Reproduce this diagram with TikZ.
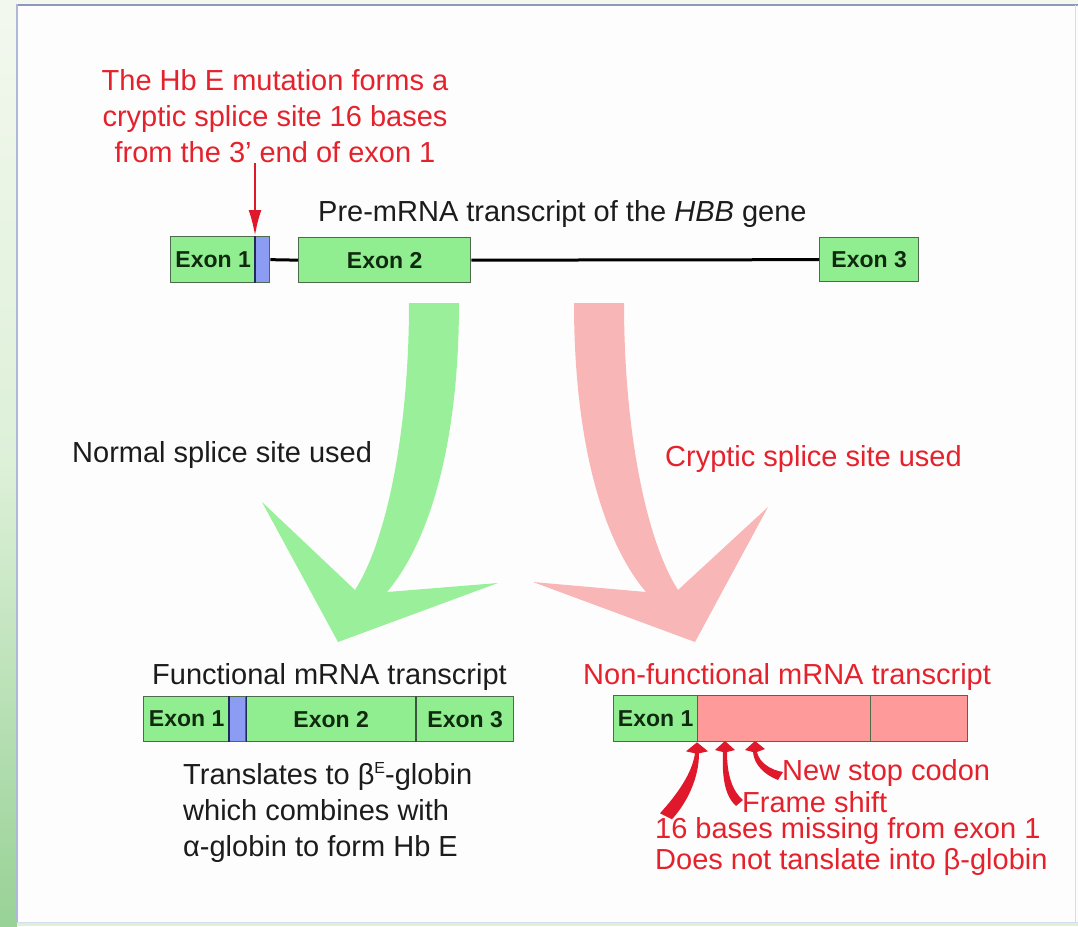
\documentclass[tikz,border=0pt]{standalone}
\usepackage{fontspec}
\setmainfont{Liberation Sans}
\usetikzlibrary{arrows.meta}
\definecolor{exg}{HTML}{90EE90}
\definecolor{exb}{HTML}{8C9CF2}
\definecolor{exp}{HTML}{FF9A9A}
\definecolor{arrg}{HTML}{9AF09A}
\definecolor{arrp}{HTML}{F9B6B6}
\definecolor{txtred}{HTML}{E5222C}
\definecolor{arrred}{HTML}{E0182C}
\definecolor{txtblk}{HTML}{1C1C1C}
\definecolor{boxline}{HTML}{4D6A4D}
\definecolor{navyline}{HTML}{1E2A5A}
\definecolor{exlbl}{HTML}{102A10}
\definecolor{panelbg}{HTML}{FDFDFE}
\definecolor{stripTop}{HTML}{F3F8EE}
\definecolor{stripMid}{HTML}{DDF0D8}
\definecolor{stripBot}{HTML}{98D296}
\definecolor{topline}{HTML}{8E98BC}
\definecolor{leftline}{HTML}{AEB8D8}
\begin{document}
\begin{tikzpicture}[x=1pt,y=-1pt,
  exonbox/.style={draw=boxline, line width=1.3pt, fill=exg, inner sep=0pt, anchor=north west,
    font=\fontsize{23}{27}\selectfont\bfseries, text=exlbl},
  bluebox/.style={exonbox, fill=exb},
  pinkbox/.style={exonbox, fill=exp},
  lbl/.style={inner sep=0pt, font=\fontsize{29}{35}\selectfont, text=txtblk},
  rlbl/.style={lbl, text=txtred},
  intron/.style={line width=3pt, black},
  sep/.style={navyline, line width=1.6pt}]
\useasboundingbox (0,0) rectangle (1078,926);
% background
\fill[panelbg] (0,0) rectangle (1078,926);
\shade[top color=stripTop, bottom color=stripBot, middle color=stripMid] (0,0) rectangle (17,926);
\fill[stripTop] (17,0) rectangle (1078,4);
\fill[stripMid] (17,922) rectangle (1078,926);
\draw[topline, line width=2pt] (17,5) -- (1078,5);
\draw[leftline, line width=1.2pt] (17,4) -- (17,922);
\draw[leftline!50, line width=0.8pt] (17,922) -- (1078,922);
\draw[leftline!50, line width=0.8pt] (1075,5) -- (1075,922);

% big arrows
\fill[arrg] (409,303) -- (459,303) .. controls (459,440) and (431,540) .. (387,592)
  -- (498,583) -- (338,642) -- (262,502) -- (355,590)
  .. controls (387,540) and (409,430) .. (409,303) -- cycle;
\fill[arrp] (574,303) -- (624,303) .. controls (624,430) and (646,540) .. (678,590)
  -- (768,507) -- (695,642) -- (533,582) -- (646,592)
  .. controls (602,540) and (574,440) .. (574,303) -- cycle;

% pre-mRNA
\node[exonbox, minimum width=85pt, minimum height=46pt] (e1) at (170,236) {Exon 1};
\node[bluebox, minimum width=14pt, minimum height=46pt] (b1) at (255,236) {};
\draw[sep] (b1.north west) -- (b1.south west);
\node[exonbox, minimum width=172pt, minimum height=45pt] (e2) at (298,237) {Exon 2};
\node[exonbox, minimum width=99pt, minimum height=44pt] (e3) at (819,237) {Exon 3};
\draw[intron] (b1.east) -- (e2.west);
\draw[intron] (e2.east) -- (e3.west);

\node[rlbl, align=center, font=\fontsize{29}{36}\selectfont] (mut) at (275,116)
  {The Hb E mutation forms a\\cryptic splice site 16 bases\\from the 3’ end of exon 1};
\coordinate (mutarr) at (255,163);
\draw[arrred, line width=2.5pt, -{Latex[length=26pt,width=13pt]}] (mutarr) -- (b1.north west);

\node[lbl, anchor=west] (pre) at (318,214) {Pre-mRNA transcript of the \textit{HBB} gene};
\node[lbl, anchor=west] (norm) at (72,455) {Normal splice site used};
\node[rlbl, anchor=west] (cryp) at (665,459) {Cryptic splice site used};

% functional
\node[lbl, anchor=west] (func) at (152,677) {Functional mRNA transcript};
\node[exonbox, minimum width=86pt, minimum height=45pt] (f1) at (143,696) {Exon 1};
\node[bluebox, minimum width=16pt, minimum height=45pt] (fb) at (229,696) {};
\node[exonbox, minimum width=171pt, minimum height=45pt] (f2) at (245,696) {Exon 2};
\node[exonbox, minimum width=97pt, minimum height=45pt] (f3) at (416,696) {Exon 3};
\draw[sep] (fb.north west) -- (fb.south west);
\draw[sep] (fb.north east) -- (fb.south east);
\draw[boxline!80!black, line width=1.5pt] (f3.north west) -- (f3.south west);

\node[lbl, anchor=north west, align=left, font=\fontsize{29}{36}\selectfont] (trans) at (183,762)
  {Translates to β\raisebox{0.75ex}{\fontsize{16}{16}\selectfont E}-globin\\which combines with\\α-globin to form Hb E};

% non-functional
\node[rlbl, anchor=west] (nonf) at (583,677) {Non-functional mRNA transcript};
\node[exonbox, minimum width=84pt, minimum height=46pt] (n1) at (613,695) {Exon 1};
\node[pinkbox, minimum width=173pt, minimum height=46pt] (n2) at (697,695) {};
\node[pinkbox, minimum width=97pt, minimum height=46pt] (n3) at (870,695) {};

\coordinate (p1) at (n2.south west);
\coordinate (p2) at (725,741);
\coordinate (p3) at (755,741);
\fill[arrred] ([shift={(-37,71)}]p1) .. controls ([shift={(-19,51)}]p1) and ([shift={(-5,31)}]p1) .. ([shift={(-2,11)}]p1)
  -- ([shift={(-11,9)}]p1) -- (p1) -- ([shift={(11,9)}]p1) -- ([shift={(2,11)}]p1)
  .. controls ([shift={(2,35)}]p1) and ([shift={(-9,59)}]p1) .. ([shift={(-25,77)}]p1) -- cycle;
\fill[arrred] ([shift={(11,65)}]p2) .. controls ([shift={(-1,54)}]p2) and ([shift={(-3,34)}]p2) .. ([shift={(-2,11)}]p2)
  -- ([shift={(-10,9)}]p2) -- (p2) -- ([shift={(10,9)}]p2) -- ([shift={(2,11)}]p2)
  .. controls ([shift={(2,31)}]p2) and ([shift={(6,49)}]p2) .. ([shift={(18,59)}]p2) -- cycle;
\fill[arrred] ([shift={(23,39)}]p3) .. controls ([shift={(10,34)}]p3) and ([shift={(-1,24)}]p3) .. ([shift={(-2,11)}]p3)
  -- ([shift={(-10,9)}]p3) -- (p3) -- ([shift={(10,8)}]p3) -- ([shift={(2,11)}]p3)
  .. controls ([shift={(4,21)}]p3) and ([shift={(15,29)}]p3) .. ([shift={(28,31)}]p3) -- cycle;

\node[rlbl, anchor=west] (stop) at (782,773) {New stop codon};
\node[rlbl, anchor=west] (fs) at (742,802) {Frame shift};
\node[rlbl, anchor=west] (miss) at (655,831) {16 bases missing from exon 1};
\node[rlbl, anchor=west] (dnt) at (655,862) {Does not tanslate into β-globin};
\end{tikzpicture}
\end{document}
